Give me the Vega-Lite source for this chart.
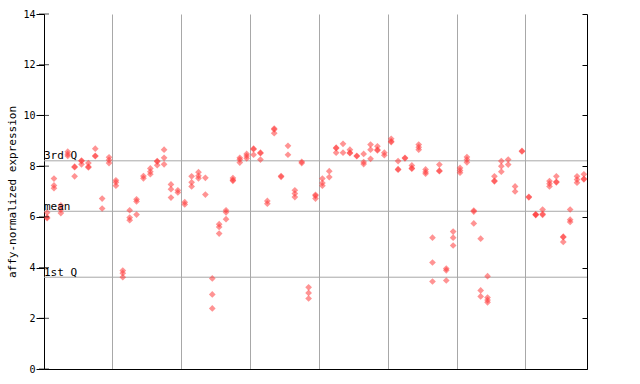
{
  "$schema": "https://vega.github.io/schema/vega-lite/v6.json",
  "width": 543,
  "height": 355,
  "autosize": {"type": "none"},
  "padding": {"left": 44, "top": 14, "right": 53, "bottom": 15},
  "background": "white",
  "config": {"view": {"stroke": null}},
  "datasets": {
    "pts": [
      {"s":0,"v":6.17},{"s":0,"v":5.95},{"s":0,"v":5.98},
      {"s":1,"v":7.51},{"s":1,"v":7.24},{"s":1,"v":7.13},
      {"s":2,"v":6.45},{"s":2,"v":6.28},{"s":2,"v":6.15},
      {"s":3,"v":8.57},{"s":3,"v":8.47},{"s":3,"v":8.40},
      {"s":4,"v":7.98},{"s":4,"v":7.96},{"s":4,"v":7.60},
      {"s":5,"v":8.22},{"s":5,"v":8.20},{"s":5,"v":8.07},
      {"s":6,"v":8.12},{"s":6,"v":7.98},{"s":6,"v":7.95},
      {"s":7,"v":8.69},{"s":7,"v":8.41},{"s":7,"v":8.39},
      {"s":8,"v":6.72},{"s":8,"v":6.33},
      {"s":9,"v":8.35},{"s":9,"v":8.24},{"s":9,"v":8.12},
      {"s":10,"v":7.44},{"s":10,"v":7.36},{"s":10,"v":7.23},
      {"s":11,"v":3.88},{"s":11,"v":3.78},{"s":11,"v":3.62},
      {"s":12,"v":6.26},{"s":12,"v":5.97},{"s":12,"v":5.87},
      {"s":13,"v":6.69},{"s":13,"v":6.61},{"s":13,"v":6.09},
      {"s":14,"v":7.61},{"s":14,"v":7.52},
      {"s":15,"v":7.91},{"s":15,"v":7.78},{"s":15,"v":7.68},
      {"s":16,"v":8.20},{"s":16,"v":8.18},{"s":16,"v":8.04},
      {"s":17,"v":8.65},{"s":17,"v":8.33},{"s":17,"v":8.07},
      {"s":18,"v":7.28},{"s":18,"v":7.09},{"s":18,"v":6.76},
      {"s":19,"v":7.05},{"s":19,"v":6.96},
      {"s":20,"v":6.58},{"s":20,"v":6.49},
      {"s":21,"v":7.60},{"s":21,"v":7.36},{"s":21,"v":7.20},
      {"s":22,"v":7.76},{"s":22,"v":7.62},{"s":22,"v":7.52},
      {"s":23,"v":7.54},{"s":23,"v":6.88},
      {"s":24,"v":3.57},{"s":24,"v":2.94},{"s":24,"v":2.39},
      {"s":25,"v":5.71},{"s":25,"v":5.60},{"s":25,"v":5.34},
      {"s":26,"v":6.26},{"s":26,"v":6.18},{"s":26,"v":5.91},
      {"s":27,"v":7.53},{"s":27,"v":7.45},{"s":27,"v":7.42},
      {"s":28,"v":8.33},{"s":28,"v":8.26},{"s":28,"v":8.14},
      {"s":29,"v":8.48},{"s":29,"v":8.40},{"s":29,"v":8.31},
      {"s":30,"v":8.69},{"s":30,"v":8.67},{"s":30,"v":8.45},
      {"s":31,"v":8.53},{"s":31,"v":8.51},{"s":31,"v":8.26},
      {"s":32,"v":6.63},{"s":32,"v":6.52},
      {"s":33,"v":9.48},{"s":33,"v":9.45},{"s":33,"v":9.30},
      {"s":34,"v":7.61},{"s":34,"v":7.58},
      {"s":35,"v":8.80},{"s":35,"v":8.45},
      {"s":36,"v":7.05},{"s":36,"v":6.92},{"s":36,"v":6.78},
      {"s":37,"v":8.17},{"s":37,"v":8.12},
      {"s":38,"v":3.22},{"s":38,"v":3.00},{"s":38,"v":2.78},
      {"s":39,"v":6.87},{"s":39,"v":6.83},{"s":39,"v":6.72},
      {"s":40,"v":7.51},{"s":40,"v":7.34},{"s":40,"v":7.23},
      {"s":41,"v":7.80},{"s":41,"v":7.57},
      {"s":42,"v":8.73},{"s":42,"v":8.71},{"s":42,"v":8.53},
      {"s":43,"v":8.88},{"s":43,"v":8.53},
      {"s":44,"v":8.65},{"s":44,"v":8.53},{"s":44,"v":8.51},
      {"s":45,"v":8.41},{"s":45,"v":8.39},
      {"s":46,"v":8.48},{"s":46,"v":8.16},{"s":46,"v":8.08},
      {"s":47,"v":8.85},{"s":47,"v":8.65},{"s":47,"v":8.29},
      {"s":48,"v":8.78},{"s":48,"v":8.65},{"s":48,"v":8.62},
      {"s":49,"v":8.53},{"s":49,"v":8.43},
      {"s":50,"v":9.08},{"s":50,"v":8.98},{"s":50,"v":8.95},
      {"s":51,"v":8.20},{"s":51,"v":7.88},{"s":51,"v":7.86},
      {"s":52,"v":8.33},{"s":52,"v":8.31},
      {"s":53,"v":8.03},{"s":53,"v":7.92},{"s":53,"v":7.90},
      {"s":54,"v":8.85},{"s":54,"v":8.75},{"s":54,"v":8.65},
      {"s":55,"v":7.87},{"s":55,"v":7.77},{"s":55,"v":7.70},
      {"s":56,"v":5.18},{"s":56,"v":4.20},{"s":56,"v":3.45},
      {"s":57,"v":8.06},{"s":57,"v":7.82},{"s":57,"v":7.80},
      {"s":58,"v":3.96},{"s":58,"v":3.89},{"s":58,"v":3.49},
      {"s":59,"v":5.42},{"s":59,"v":5.18},{"s":59,"v":4.87},
      {"s":60,"v":7.93},{"s":60,"v":7.83},{"s":60,"v":7.74},
      {"s":61,"v":8.36},{"s":61,"v":8.26},{"s":61,"v":8.15},
      {"s":62,"v":6.25},{"s":62,"v":6.21},{"s":62,"v":5.74},
      {"s":63,"v":5.14},{"s":63,"v":3.10},{"s":63,"v":2.86},
      {"s":64,"v":3.66},{"s":64,"v":2.82},{"s":64,"v":2.72},{"s":64,"v":2.63},
      {"s":65,"v":7.60},{"s":65,"v":7.42},{"s":65,"v":7.40},
      {"s":66,"v":8.20},{"s":66,"v":8.00},{"s":66,"v":7.78},
      {"s":67,"v":8.26},{"s":67,"v":8.06},
      {"s":68,"v":7.20},{"s":68,"v":7.00},
      {"s":69,"v":8.60},{"s":69,"v":8.58},
      {"s":70,"v":6.79},{"s":70,"v":6.77},
      {"s":71,"v":6.10},{"s":71,"v":6.07},{"s":71,"v":6.09},
      {"s":72,"v":6.29},{"s":72,"v":6.11},{"s":72,"v":6.08},
      {"s":73,"v":7.41},{"s":73,"v":7.31},{"s":73,"v":7.20},
      {"s":74,"v":7.60},{"s":74,"v":7.38},{"s":74,"v":7.36},
      {"s":75,"v":5.22},{"s":75,"v":5.20},{"s":75,"v":5.01},
      {"s":76,"v":6.29},{"s":76,"v":5.89},{"s":76,"v":5.80},
      {"s":77,"v":7.60},{"s":77,"v":7.47},{"s":77,"v":7.35},
      {"s":78,"v":7.68},{"s":78,"v":7.50},{"s":78,"v":7.48}
    ],
    "quart": [
      {"s":-0.45,"v":8.21,"label":"3rd Q"},
      {"s":-0.45,"v":6.22,"label":"mean"},
      {"s":-0.45,"v":3.62,"label":"1st Q"}
    ],
    "ticks": [
      {"s":-0.45,"v":0},{"s":-0.45,"v":2},{"s":-0.45,"v":4},{"s":-0.45,"v":6},
      {"s":-0.45,"v":8},{"s":-0.45,"v":10},{"s":-0.45,"v":12},{"s":-0.45,"v":14}
    ]
  },
  "resolve": {"axis": {"y": "independent"}},
  "layer": [
    {
      "data": {"name": "quart"},
      "mark": {"type": "rule", "color": "#a8a8a8", "strokeWidth": 1},
      "encoding": {
        "y": {"field": "v", "type": "quantitative", "scale": {"domain": [0, 14], "nice": false, "zero": false},
          "axis": {"orient": "right", "values": [0,2,4,6,8,10,12,14], "labels": false, "title": null, "grid": false,
            "domain": true, "domainColor": "black", "tickColor": "black", "tickSize": -5, "ticks": true}}
      }
    },
    {
      "data": {"name": "pts"},
      "mark": {"type": "point", "shape": "diamond", "filled": true, "size": 45, "color": "#ff3b3b", "opacity": 0.55, "strokeWidth": 0},
      "encoding": {
        "x": {"field": "s", "type": "quantitative", "scale": {"domain": [-0.45, 78.45], "nice": false, "zero": false},
          "axis": {"values": [9.5,19.5,29.5,39.5,49.5,59.5,69.5], "grid": true, "gridColor": "#a8a8a8", "gridOpacity": 1,
            "ticks": false, "labels": false, "title": null, "domain": true, "domainColor": "black"}},
        "y": {"field": "v", "type": "quantitative", "scale": {"domain": [0, 14], "nice": false, "zero": false},
          "axis": {"orient": "left", "values": [0,2,4,6,8,10,12,14], "grid": false, "domainColor": "black", "tickColor": "black",
            "tickSize": 8, "labelPadding": 1, "labelFont": "DejaVu Sans Mono", "labelFontSize": 10, "labelColor": "black",
            "title": "affy-normalized expression", "titleFont": "DejaVu Sans Mono", "titleFontSize": 11, "titleFontWeight": "normal",
            "titleColor": "black", "titlePadding": 5}}
      }
    },
    {
      "data": {"name": "ticks"},
      "mark": {"type": "tick", "orient": "horizontal", "color": "black", "size": 10, "thickness": 1},
      "encoding": {
        "x": {"field": "s", "type": "quantitative",
          "axis": {"values": [9.5,19.5,29.5,39.5,49.5,59.5,69.5], "grid": true, "gridColor": "#a8a8a8", "gridOpacity": 1,
            "ticks": false, "labels": false, "title": null, "domain": true, "domainColor": "black"}},
        "y": {"field": "v", "type": "quantitative", "axis": null}
      }
    },
    {
      "data": {"name": "quart"},
      "mark": {"type": "text", "align": "left", "baseline": "alphabetic", "dy": -1.5, "font": "DejaVu Sans Mono", "fontSize": 11, "color": "black"},
      "encoding": {
        "x": {"field": "s", "type": "quantitative",
          "axis": {"values": [9.5,19.5,29.5,39.5,49.5,59.5,69.5], "grid": true, "gridColor": "#a8a8a8", "gridOpacity": 1,
            "ticks": false, "labels": false, "title": null, "domain": true, "domainColor": "black"}},
        "y": {"field": "v", "type": "quantitative", "axis": null},
        "text": {"field": "label"}
      }
    }
  ]
}
